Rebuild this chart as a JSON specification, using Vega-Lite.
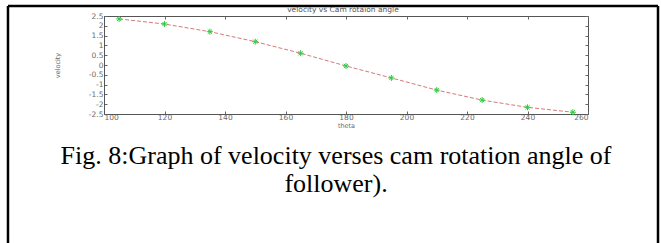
{
  "$schema": "https://vega.github.io/schema/vega-lite/v6.json",
  "width": 484,
  "height": 98,
  "autosize": {"type": "none"},
  "padding": {"left": 104, "top": 16, "right": 73, "bottom": 129},
  "background": "white",
  "config": {
    "view": {"stroke": "#555", "strokeWidth": 1},
    "axis": {
      "labelFont": "DejaVu Sans",
      "labelFontSize": 7.5,
      "labelColor": "#6a6a6a",
      "titleFont": "DejaVu Sans",
      "titleFontSize": 6.5,
      "titleFontWeight": "normal",
      "titleColor": "#6a6a6a",
      "tickColor": "#666",
      "domainColor": "#555",
      "grid": false
    }
  },
  "data": {
    "values": [
      {"theta": 105, "velocity": 2.35},
      {"theta": 120, "velocity": 2.09},
      {"theta": 135, "velocity": 1.70},
      {"theta": 150, "velocity": 1.19},
      {"theta": 165, "velocity": 0.60},
      {"theta": 180, "velocity": -0.05},
      {"theta": 195, "velocity": -0.66},
      {"theta": 210, "velocity": -1.28},
      {"theta": 225, "velocity": -1.79},
      {"theta": 240, "velocity": -2.16},
      {"theta": 255, "velocity": -2.41}
    ]
  },
  "resolve": {"axis": {"x": "independent", "y": "independent"}},
  "layer": [
    {
      "mark": {"type": "line", "color": "#d47a7a", "strokeWidth": 1, "strokeDash": [4, 2]},
      "encoding": {
        "x": {
          "field": "theta", "type": "quantitative",
          "scale": {"domain": [100, 260], "nice": false, "zero": false},
          "axis": {
            "orient": "bottom",
            "values": [100, 120, 140, 160, 180, 200, 220, 240, 260],
            "tickSize": -3,
            "labelPadding": 2,
            "title": "theta",
            "titleX": 242,
            "titleY": 11.5,
            "titleBaseline": "middle",
            "titleAlign": "center"
          }
        },
        "y": {
          "field": "velocity", "type": "quantitative",
          "scale": {"domain": [-2.5, 2.5], "nice": false, "zero": false},
          "axis": {
            "orient": "left",
            "values": [-2.5, -2, -1.5, -1, -0.5, 0, 0.5, 1, 1.5, 2, 2.5],
            "labelExpr": "'' + datum.value",
            "tickSize": -3,
            "labelPadding": 4,
            "title": "velocity",
            "titleX": -47,
            "titleY": 49,
            "titleAngle": -90,
            "titleBaseline": "middle",
            "titleAlign": "center"
          }
        }
      }
    },
    {
      "mark": {
        "type": "point",
        "shape": "M-1,0L1,0M0,-1L0,1M-0.7,-0.7L0.7,0.7M-0.7,0.7L0.7,-0.7",
        "filled": false,
        "color": "#2ecc40",
        "size": 36,
        "strokeWidth": 1,
        "opacity": 1
      },
      "encoding": {
        "x": {"field": "theta", "type": "quantitative", "scale": {"domain": [100, 260], "nice": false, "zero": false}, "axis": null},
        "y": {"field": "velocity", "type": "quantitative", "scale": {"domain": [-2.5, 2.5], "nice": false, "zero": false}, "axis": null}
      }
    },
    {
      "mark": {"type": "point", "opacity": 0},
      "encoding": {
        "x": {
          "field": "theta", "type": "quantitative",
          "scale": {"domain": [100, 260], "nice": false, "zero": false},
          "axis": {"orient": "top", "labels": false, "domain": false, "tickSize": -3, "title": null,
                   "values": [100, 120, 140, 160, 180, 200, 220, 240, 260]}
        },
        "y": {
          "field": "velocity", "type": "quantitative",
          "scale": {"domain": [-2.5, 2.5], "nice": false, "zero": false},
          "axis": {"orient": "right", "labels": false, "domain": false, "tickSize": -3, "title": null,
                   "values": [-2.5, -2, -1.5, -1, -0.5, 0, 0.5, 1, 1.5, 2, 2.5]}
        }
      }
    },
    {
      "data": {"values": [{"label": "velocity vs Cam rotaion angle"}]},
      "mark": {"type": "text", "font": "DejaVu Sans", "fontSize": 7.5, "color": "#555", "dy": -6, "baseline": "middle", "align": "center"},
      "encoding": {
        "x": {"datum": 179, "type": "quantitative", "axis": null},
        "y": {"datum": 2.5, "type": "quantitative", "axis": null},
        "text": {"field": "label"}
      }
    },
    {
      "data": {"values": [{"caption": ["Fig. 8:Graph of velocity verses cam rotation angle of", "follower)."]}]},
      "mark": {"type": "text", "font": "Liberation Serif, Times New Roman, serif", "fontSize": 26, "color": "black", "baseline": "alphabetic", "align": "center", "lineHeight": 28.5},
      "encoding": {
        "x": {"datum": 176.7, "type": "quantitative", "axis": null},
        "y": {"datum": -5.05, "type": "quantitative", "axis": null},
        "text": {"field": "caption"}
      }
    },
    {
      "data": {"values": [{"side": "left"}]},
      "mark": {"type": "rule", "color": "black", "strokeWidth": 2.5},
      "encoding": {
        "x": {"datum": 68.26, "type": "quantitative", "axis": null},
        "y": {"datum": 3.01, "type": "quantitative", "axis": null},
        "y2": {"datum": -9.4}
      }
    },
    {
      "data": {"values": [{"side": "top"}]},
      "mark": {"type": "rule", "color": "black", "strokeWidth": 2.5},
      "encoding": {
        "x": {"datum": 68.26, "type": "quantitative", "axis": null},
        "x2": {"datum": 283.14},
        "y": {"datum": 3.01, "type": "quantitative", "axis": null}
      }
    },
    {
      "data": {"values": [{"side": "right"}]},
      "mark": {"type": "rule", "color": "black", "strokeWidth": 2.5},
      "encoding": {
        "x": {"datum": 283.14, "type": "quantitative", "axis": null},
        "y": {"datum": 3.01, "type": "quantitative", "axis": null},
        "y2": {"datum": -9.4}
      }
    }
  ]
}
